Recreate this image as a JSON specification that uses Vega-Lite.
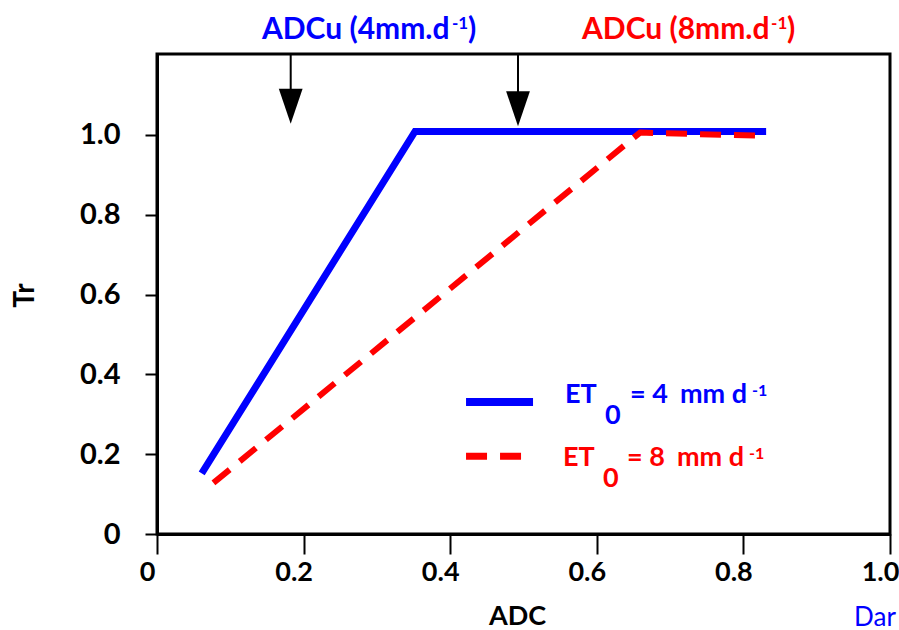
{
  "$schema": "https://vega.github.io/schema/vega-lite/v6.json",
  "width": 733,
  "height": 480,
  "autosize": {"type": "none"},
  "padding": {"left": 157, "top": 54, "right": 9, "bottom": 96},
  "background": "white",
  "config": {
    "view": {"stroke": "black", "strokeWidth": 3},
    "font": "Lato",
    "text": {"font": "Lato"}
  },
  "datasets": {
    "curves": [
      {"et": "4", "adc": 0.061, "tr": 0.152},
      {"et": "4", "adc": 0.352, "tr": 1.009},
      {"et": "4", "adc": 0.831, "tr": 1.009},
      {"et": "8", "adc": 0.077, "tr": 0.128},
      {"et": "8", "adc": 0.659, "tr": 1.006},
      {"et": "8", "adc": 0.827, "tr": 0.998}
    ],
    "legendlines": [
      {"et": "4", "adc": 0.4216, "tr": 0.331},
      {"et": "4", "adc": 0.513, "tr": 0.331},
      {"et": "8", "adc": 0.4216, "tr": 0.195},
      {"et": "8", "adc": 0.4979, "tr": 0.195}
    ],
    "arrows": [
      {"part": "shaft", "adc": 0.1824, "tr": 1.203, "tr2": 1.09},
      {"part": "shaft", "adc": 0.4925, "tr": 1.203, "tr2": 1.09},
      {"part": "head", "adc": 0.1824, "tr": 1.072},
      {"part": "head", "adc": 0.4925, "tr": 1.066}
    ],
    "notes": [
      {"et": "4", "kind": "top", "text": "ADCu (4mm.d", "adc": 0.1432, "tr": 1.2406},
      {"et": "4", "kind": "topsup", "text": "-1", "adc": 0.4025, "tr": 1.265},
      {"et": "4", "kind": "top", "text": ")", "adc": 0.4243, "tr": 1.2406},
      {"et": "8", "kind": "top", "text": "ADCu (8mm.d", "adc": 0.5798, "tr": 1.2406},
      {"et": "8", "kind": "topsup", "text": "-1", "adc": 0.8377, "tr": 1.265},
      {"et": "8", "kind": "top", "text": ")", "adc": 0.8595, "tr": 1.2406},
      {"et": "4", "kind": "leg", "text": "ET", "adc": 0.5566, "tr": 0.3283},
      {"et": "4", "kind": "leg", "text": "0", "adc": 0.6112, "tr": 0.2757},
      {"et": "4", "kind": "leg", "text": "= 4", "adc": 0.6453, "tr": 0.3283},
      {"et": "4", "kind": "leg", "text": "mm d", "adc": 0.7135, "tr": 0.3283},
      {"et": "4", "kind": "legsup", "text": "-1", "adc": 0.8117, "tr": 0.3459},
      {"et": "8", "kind": "leg", "text": "ET", "adc": 0.5539, "tr": 0.1704},
      {"et": "8", "kind": "leg", "text": "0", "adc": 0.6085, "tr": 0.1178},
      {"et": "8", "kind": "leg", "text": "= 8", "adc": 0.6412, "tr": 0.1704},
      {"et": "8", "kind": "leg", "text": "mm d", "adc": 0.7094, "tr": 0.1704},
      {"et": "8", "kind": "legsup", "text": "-1", "adc": 0.8076, "tr": 0.188},
      {"et": "4", "kind": "plain", "text": "Dar", "adc": 0.951, "tr": -0.2306}
    ]
  },
  "encoding": {
    "x": {
      "field": "adc",
      "type": "quantitative",
      "scale": {"domain": [0, 1], "nice": false, "zero": false},
      "axis": {
        "values": [0, 0.2, 0.4, 0.6, 0.8, 1],
        "labelExpr": "datum.value == 0 ? '0' : format(datum.value, '.1f')",
        "grid": false,
        "domainColor": "black",
        "domainWidth": 3,
        "tickColor": "black",
        "tickWidth": 2,
        "tickSize": 20,
        "labelPadding": 5,
        "labelOffset": -10,
        "labelFont": "Lato",
        "labelFontWeight": "bold",
        "labelFontSize": 27,
        "labelColor": "black",
        "labelFlush": false,
        "labelOverlap": false,
        "labelBound": false,
        "title": "ADC",
        "titleFont": "Lato",
        "titleFontWeight": "bold",
        "titleFontSize": 27,
        "titleColor": "black",
        "titleX": 360,
        "titleY": 82,
        "titleAlign": "center",
        "titleBaseline": "middle"
      }
    },
    "y": {
      "field": "tr",
      "type": "quantitative",
      "scale": {"domain": [0, 1.203], "nice": false, "zero": false},
      "axis": {
        "values": [0, 0.2, 0.4, 0.6, 0.8, 1],
        "labelExpr": "datum.value == 0 ? '0' : format(datum.value, '.1f')",
        "grid": false,
        "domainColor": "black",
        "domainWidth": 3,
        "tickColor": "black",
        "tickWidth": 2,
        "tickSize": 12,
        "labelPadding": 25,
        "labelFont": "Lato",
        "labelFontWeight": "bold",
        "labelFontSize": 29,
        "labelColor": "black",
        "labelOverlap": false,
        "labelBound": false,
        "title": "Tr",
        "titleFont": "Lato",
        "titleFontWeight": "bold",
        "titleFontSize": 28,
        "titleColor": "black",
        "titleAngle": -90,
        "titleX": -132,
        "titleY": 241,
        "titleAlign": "center",
        "titleBaseline": "middle"
      }
    }
  },
  "layer": [
    {
      "data": {"name": "curves"},
      "transform": [{"filter": "datum.et == '4'"}],
      "mark": {"type": "line", "color": "#0000ff", "strokeWidth": 7, "strokeCap": "butt", "strokeJoin": "miter"},
      "encoding": {"order": {"field": "adc", "type": "quantitative"}}
    },
    {
      "data": {"name": "curves"},
      "transform": [{"filter": "datum.et == '8'"}],
      "mark": {"type": "line", "color": "#ff0000", "strokeWidth": 6, "strokeCap": "butt", "strokeDash": [21, 13]},
      "encoding": {"order": {"field": "adc", "type": "quantitative"}}
    },
    {
      "data": {"name": "legendlines"},
      "transform": [{"filter": "datum.et == '4'"}],
      "mark": {"type": "line", "color": "#0000ff", "strokeWidth": 8, "strokeCap": "butt"},
      "encoding": {}
    },
    {
      "data": {"name": "legendlines"},
      "transform": [{"filter": "datum.et == '8'"}],
      "mark": {"type": "line", "color": "#ff0000", "strokeWidth": 7, "strokeCap": "butt", "strokeDash": [21, 13]},
      "encoding": {}
    },
    {
      "data": {"name": "arrows"},
      "transform": [{"filter": "datum.part == 'shaft'"}],
      "mark": {"type": "rule", "color": "black", "strokeWidth": 2},
      "encoding": {"y2": {"field": "tr2"}}
    },
    {
      "data": {"name": "arrows"},
      "transform": [{"filter": "datum.part == 'head'"}],
      "mark": {"type": "point", "shape": "M-0.68,-1L0.68,-1L0,1Z", "size": 1225, "filled": true, "color": "black", "opacity": 1, "strokeWidth": 0}
    },
    {
      "data": {"name": "notes"},
      "transform": [{"filter": "datum.kind == 'top'"}],
      "mark": {"type": "text", "align": "left", "baseline": "alphabetic", "fontSize": 30, "fontWeight": "bold"},
      "encoding": {
        "text": {"field": "text"},
        "color": {"field": "et", "type": "nominal", "scale": {"domain": ["4", "8"], "range": ["#0000ff", "#ff0000"]}, "legend": null}
      }
    },
    {
      "data": {"name": "notes"},
      "transform": [{"filter": "datum.kind == 'topsup'"}],
      "mark": {"type": "text", "align": "left", "baseline": "alphabetic", "fontSize": 17, "fontWeight": "bold"},
      "encoding": {
        "text": {"field": "text"},
        "color": {"field": "et", "type": "nominal", "legend": null}
      }
    },
    {
      "data": {"name": "notes"},
      "transform": [{"filter": "datum.kind == 'leg'"}],
      "mark": {"type": "text", "align": "left", "baseline": "alphabetic", "fontSize": 27, "fontWeight": "bold"},
      "encoding": {
        "text": {"field": "text"},
        "color": {"field": "et", "type": "nominal", "legend": null}
      }
    },
    {
      "data": {"name": "notes"},
      "transform": [{"filter": "datum.kind == 'legsup'"}],
      "mark": {"type": "text", "align": "left", "baseline": "alphabetic", "fontSize": 16, "fontWeight": "bold"},
      "encoding": {
        "text": {"field": "text"},
        "color": {"field": "et", "type": "nominal", "legend": null}
      }
    },
    {
      "data": {"name": "notes"},
      "transform": [{"filter": "datum.kind == 'plain'"}],
      "mark": {"type": "text", "align": "left", "baseline": "alphabetic", "fontSize": 26, "fontWeight": "normal"},
      "encoding": {
        "text": {"field": "text"},
        "color": {"field": "et", "type": "nominal", "legend": null}
      }
    }
  ]
}
